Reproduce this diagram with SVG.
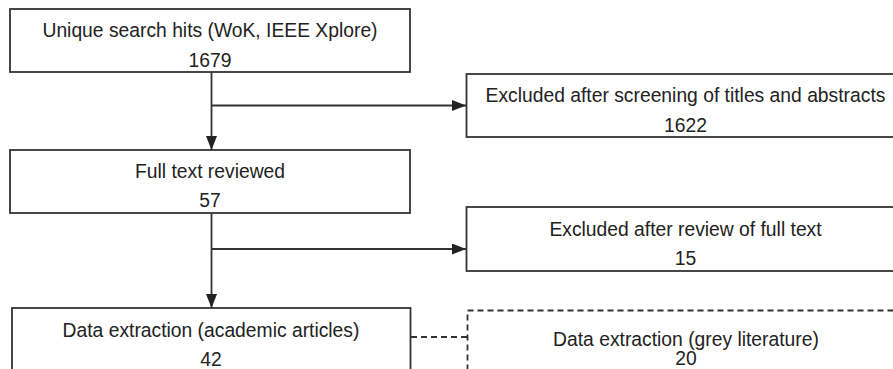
<svg xmlns="http://www.w3.org/2000/svg" width="893" height="369" viewBox="0 0 893 369">
<style>
.box{fill:#fff;stroke:#333;stroke-width:1.8}
.dbox{fill:#fff;stroke:#333;stroke-width:1.8;stroke-dasharray:6 4}
.t{font-family:"Liberation Sans",Arial,sans-serif;font-size:19.3px;fill:#222;text-anchor:middle}
.ln{fill:none;stroke:#333;stroke-width:1.8}
.dl{fill:none;stroke:#333;stroke-width:1.8;stroke-dasharray:6 4}
</style>
<defs>
<marker id="arr" markerUnits="userSpaceOnUse" markerWidth="15" markerHeight="12" refX="14" refY="5.5" orient="auto">
<path d="M0,0 L14,5.5 L0,11 Z" fill="#222"/>
</marker>
</defs>
<rect width="893" height="369" fill="#fff"/>
<g id="connectors">
<line class="ln" x1="211.5" y1="72" x2="211.5" y2="150" marker-end="url(#arr)"/>
<line class="ln" x1="211.5" y1="105.5" x2="466" y2="105.5" marker-end="url(#arr)"/>
<line class="ln" x1="211.5" y1="213" x2="211.5" y2="308" marker-end="url(#arr)"/>
<line class="ln" x1="211.5" y1="249" x2="466" y2="249" marker-end="url(#arr)"/>
<line class="dl" x1="411" y1="337" x2="467" y2="337"/>
</g>
<g id="n1">
<rect class="box" x="10" y="9" width="400" height="63"/>
<text class="t" x="210" y="37">Unique search hits (WoK, IEEE Xplore)</text>
<text class="t" x="210" y="67">1679</text>
</g>
<g id="n2">
<rect class="box" x="466.5" y="74" width="440" height="63"/>
<text class="t" x="685.5" y="102">Excluded after screening of titles and abstracts</text>
<text class="t" x="685.5" y="132">1622</text>
</g>
<g id="n3">
<rect class="box" x="10" y="150" width="400" height="63"/>
<text class="t" x="210" y="178">Full text reviewed</text>
<text class="t" x="210" y="207">57</text>
</g>
<g id="n4">
<rect class="box" x="466.5" y="207" width="440" height="64"/>
<text class="t" x="685.5" y="236">Excluded after review of full text</text>
<text class="t" x="685.5" y="265">15</text>
</g>
<g id="n5">
<rect class="box" x="12" y="308" width="398.5" height="80"/>
<text class="t" x="211" y="337">Data extraction (academic articles)</text>
<text class="t" x="211" y="365.5">42</text>
</g>
<g id="n6">
<rect class="dbox" x="467.5" y="310.5" width="440" height="80"/>
<text class="t" x="686" y="345.5">Data extraction (grey literature)</text>
<text class="t" x="686" y="365">20</text>
</g>
</svg>
